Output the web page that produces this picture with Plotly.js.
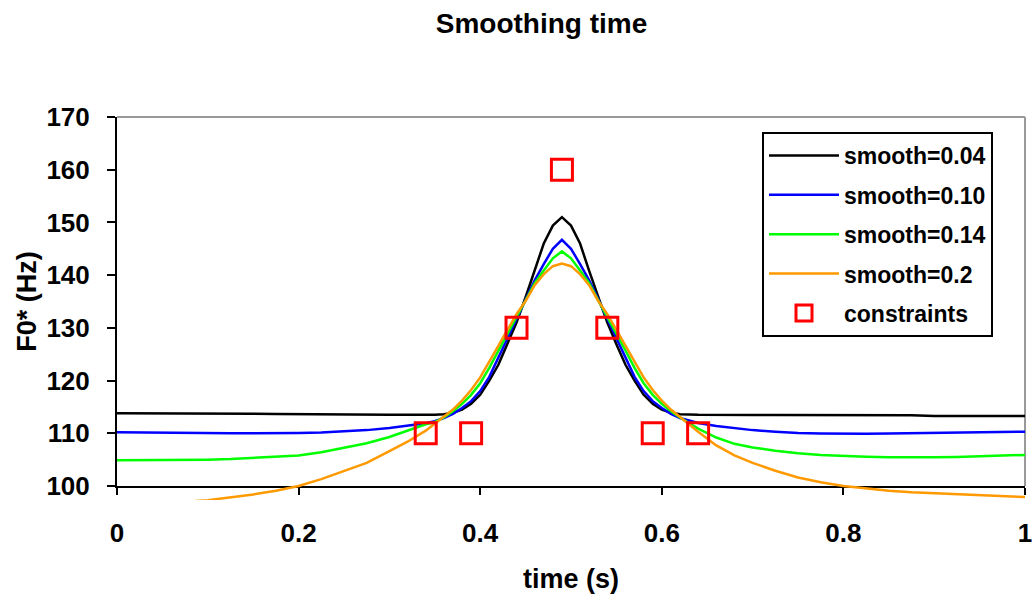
<!DOCTYPE html>
<html>
<head>
<meta charset="utf-8">
<script src="https://cdn.plot.ly/plotly-3.0.1.min.js"></script>
<style>html,body{margin:0;padding:0;background:#fff;}#chart{width:1032px;height:594px;}</style>
</head>
<body>
<div id="chart"></div>
<script>
// ---- data ----
const time = [0, 0.025, 0.05, 0.075, 0.1, 0.125, 0.15, 0.175, 0.2, 0.225, 0.25, 0.275, 0.3,
  0.32, 0.34,
  0.35, 0.36, 0.37, 0.38, 0.39, 0.40, 0.41, 0.42, 0.43, 0.44, 0.45, 0.46, 0.47, 0.48, 0.49,
  0.50, 0.51, 0.52, 0.53, 0.54, 0.55, 0.56, 0.57, 0.58, 0.59, 0.60, 0.61, 0.62,
  0.64, 0.66, 0.68,
  0.7, 0.725, 0.75, 0.775, 0.8, 0.825, 0.85, 0.875, 0.9, 0.925, 0.95, 0.975, 1.0];

const smooth004 = [113.8, 113.8, 113.8, 113.75, 113.75, 113.7, 113.7, 113.65, 113.6, 113.6, 113.55, 113.5, 113.5,
  113.5, 113.45,
  113.5, 113.6, 113.9, 114.5, 115.6, 117.3, 120.0, 123.0, 126.9, 131.0, 135.8, 140.8, 146.0, 149.4, 151.0,
  149.4, 146.0, 140.8, 135.8, 131.0, 126.9, 123.0, 120.0, 117.3, 115.6, 114.5, 113.9, 113.6,
  113.5, 113.45, 113.45,
  113.45, 113.45, 113.45, 113.45, 113.45, 113.45, 113.4, 113.4, 113.3, 113.3, 113.3, 113.3, 113.3];

const smooth010 = [110.2, 110.15, 110.05, 110.0, 110.0, 110.0, 110.0, 110.0, 110.05, 110.15, 110.35, 110.6, 111.0,
  111.4, 111.9,
  112.3, 112.9, 113.7, 114.8, 116.1, 118.0, 120.7, 124.3, 128.0, 131.7, 135.4, 139.0, 142.1, 145.0, 146.7,
  145.0, 142.1, 139.0, 135.4, 131.7, 128.0, 124.3, 120.7, 118.0, 116.1, 114.8, 113.7, 112.9,
  111.95, 111.4, 110.95,
  110.6, 110.3, 110.05, 109.95, 109.9, 109.9, 109.95, 110.0, 110.1, 110.15, 110.2, 110.25, 110.3];

const smooth014 = [104.9, 104.9, 104.9, 104.95, 105.0, 105.1, 105.3, 105.5, 105.8, 106.4, 107.2, 108.1, 109.3,
  110.5, 111.7,
  112.1, 113.0, 114.2, 115.6, 117.3, 119.5, 122.4, 125.7, 128.9, 132.1, 135.2, 138.5, 140.9, 143.2, 144.5,
  143.2, 140.9, 138.5, 135.2, 132.1, 128.9, 125.7, 122.4, 119.5, 117.3, 115.6, 114.2, 113.0,
  110.9, 109.2, 108.0,
  107.3, 106.7, 106.2, 105.9, 105.7, 105.55, 105.45, 105.4, 105.45, 105.5, 105.65, 105.75, 105.9];

const smooth020 = [96.3, 96.5, 96.7, 97.0, 97.3, 97.8, 98.4, 99.1, 100.0, 101.3, 102.8, 104.4, 106.6,
  108.4, 110.5,
  111.8, 113.1, 114.5, 116.2, 118.2, 120.6, 123.5, 126.6, 129.6, 132.6, 135.1, 138.1, 140.2, 141.7, 142.2,
  141.7, 140.2, 138.1, 135.1, 132.6, 129.6, 126.6, 123.5, 120.6, 118.2, 116.2, 114.5, 113.1,
  110.3, 107.7, 105.8,
  104.4, 102.9, 101.6, 100.7, 100.0, 99.5, 99.1, 98.8, 98.6, 98.4, 98.2, 98.05, 97.9];

const constraintTime = [0.34, 0.39, 0.44, 0.49, 0.54, 0.59, 0.64];
const constraintF0 = [110, 110, 130, 160, 130, 110, 110];

const seriesNames = ['smooth=0.04', 'smooth=0.10', 'smooth=0.14', 'smooth=0.2'];
const seriesColors = ['#000000', '#0000FF', '#00FF00', '#FF9900'];
const xTickVals = [0, 0.2, 0.4, 0.6, 0.8, 1];
const xTickText = ['0', '0.2', '0.4', '0.6', '0.8', '1'];
const yTickVals = [100, 110, 120, 130, 140, 150, 160, 170];

// ---- chart ----
const FONT = 'Liberation Sans, Arial, sans-serif';
const seriesValues = [smooth004, smooth010, smooth014, smooth020];
const traces = seriesValues.map((vals, i) => ({
  type: 'scatter', mode: 'lines', x: time, y: vals, name: seriesNames[i],
  xaxis: 'x', yaxis: 'y2', legendgroup: 'g' + i,
  line: {color: seriesColors[i], width: 2.5}
}));
traces.push({
  type: 'scatter', mode: 'markers', x: constraintTime, y: constraintF0, name: 'constraints',
  xaxis: 'x', yaxis: 'y2', legendgroup: 'g4',
  marker: {symbol: 'square-open', size: 21, color: '#FF0000', line: {color: '#FF0000', width: 3}}
});

// plot area: left 117 .. right 1025, top 117 .. y=100 at 486; clip region extends to 500
const H = 594, mT = 117, mB = 94;
const plotH = H - mT - mB;                 // 383
const yBottomFrac = (500 - 486) / plotH;   // domain offset of y=100
const pxPerHz = (486 - 117) / 70;
const y2min = 100 - (500 - 486) / pxPerHz;

const tickFont = {family: FONT, size: 26, color: '#000', weight: 'bold'};
const layout = {
  width: 1032, height: H,
  margin: {l: 117, r: 7, t: mT, b: mB, pad: 0},
  paper_bgcolor: '#ffffff', plot_bgcolor: 'rgba(0,0,0,0)',
  font: {family: FONT, color: '#000'},
  title: {text: 'Smoothing time', font: {family: FONT, size: 28, weight: 'bold', color: '#000'},
          x: 0.4675, xref: 'paper', xanchor: 'center', y: 1 - 23 / H, yref: 'container', yanchor: 'middle'},
  showlegend: true,
  legend: {x: (762 - 117) / 908, xanchor: 'left', y: 0.961, yanchor: 'top',
           bgcolor: '#ffffff', bordercolor: '#000', borderwidth: 2,
           font: {family: FONT, size: 23, weight: 'bold', color: '#000'},
           tracegroupgap: 6.5, itemwidth: 70, entrywidth: 240, entrywidthmode: 'pixels'},
  xaxis: {range: [0, 1], domain: [0, 1], anchor: 'y', tickvals: xTickVals, ticktext: xTickText,
          showline: true, linecolor: '#000', linewidth: 2, ticks: 'outside', ticklen: 7, tickwidth: 2,
          tickcolor: '#000', showgrid: false, zeroline: false, tickfont: tickFont, ticklabelstandoff: 16,
          ticklabeloverflow: 'allow',
          title: {text: 'time (s)', font: {family: FONT, size: 27, weight: 'bold', color: '#000'}, standoff: 23}},
  yaxis: {range: [100, 170], domain: [yBottomFrac, 1], anchor: 'x', tickvals: yTickVals,
          showline: true, linecolor: '#000', linewidth: 2, ticks: 'outside', ticklen: 8, tickwidth: 2,
          tickcolor: '#000', showgrid: false, zeroline: false, tickfont: tickFont, ticklabelstandoff: 12,
          title: {text: 'F0* (Hz)', font: {family: FONT, size: 27, weight: 'bold', color: '#000'}, standoff: 2}},
  yaxis2: {range: [y2min, 170], domain: [0, 1], anchor: 'x', visible: false, showgrid: false, zeroline: false},
  shapes: [
    {type: 'line', xref: 'x', yref: 'paper', x0: 0, x1: 1, y0: 1, y1: 1, line: {color: '#999999', width: 2}, layer: 'below'},
    {type: 'line', xref: 'paper', yref: 'y', x0: 1, x1: 1, y0: 100, y1: 170, line: {color: '#999999', width: 2}, layer: 'below'}
  ]
};

Plotly.newPlot('chart', traces, layout, {staticPlot: true, displayModeBar: false});
</script>
</body>
</html>
